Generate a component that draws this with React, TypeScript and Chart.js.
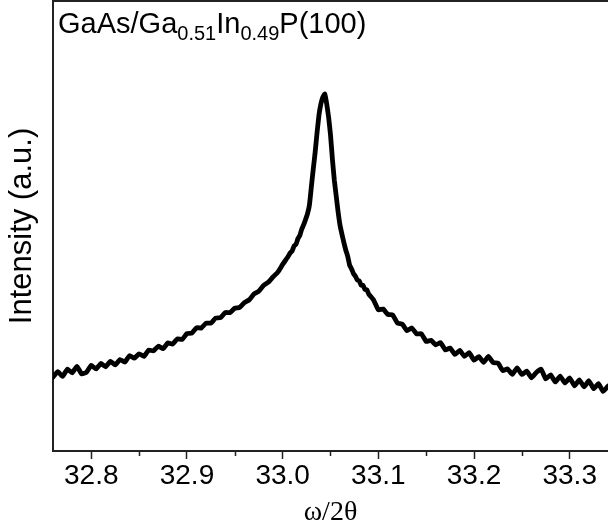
import React, { useEffect, useRef } from "react";
import { Chart, registerables } from "chart.js";

Chart.register(...registerables);

// ω/2θ angles (deg) and intensities (a.u.)
const leftTailAngle = [
  32.760, 32.765, 32.770, 32.775, 32.780, 32.785, 32.790, 32.795, 32.800, 32.805,
  32.810, 32.815, 32.820, 32.825, 32.830, 32.835, 32.840, 32.845, 32.850, 32.855,
  32.860, 32.865, 32.870, 32.875, 32.880, 32.885, 32.890, 32.895, 32.900, 32.905,
  32.910, 32.915, 32.920, 32.925, 32.930, 32.935, 32.940, 32.945, 32.950, 32.955,
  32.960, 32.965, 32.970, 32.975, 32.980, 32.985, 32.990, 32.995, 33.000, 33.005,
];
const leftTailIntensity = [
  76, 81.6, 76.7, 84, 80.4, 86.8, 79.2, 80.9, 87.8, 84.2,
  89.7, 86.4, 91.8, 88.3, 93.7, 91.1, 97.6, 95, 99.4, 96.8,
  103.1, 102.4, 107, 104.6, 110.3, 109.2, 114.4, 113.8, 119.7, 120,
  125.5, 125.3, 130.2, 130.1, 135.2, 135.5, 140.8, 140.7, 145.1, 145.9,
  150.8, 153.5, 159.3, 162.1, 167.9, 171.1, 176.5, 181.3, 189, 195.9,
];
const peakAngle = [
  33.008, 33.010, 33.012, 33.014, 33.016, 33.018, 33.020, 33.022, 33.024, 33.026,
  33.028, 33.030, 33.032, 33.034, 33.036, 33.038, 33.040, 33.042, 33.044, 33.046,
  33.048, 33.050, 33.052, 33.054, 33.056, 33.058, 33.060, 33.062, 33.064, 33.066,
  33.068, 33.070, 33.072, 33.074, 33.076, 33.078, 33.080, 33.082, 33.084, 33.086,
  33.088, 33.090,
];
const peakIntensity = [
  200.7, 202.6, 207.6, 209.2, 215, 218.2, 224.5, 228.8, 234.1, 239.8,
  248.7, 266.8, 284.7, 301.8, 321.6, 339, 350, 356.6, 359.7, 350.1,
  336.7, 319, 294.4, 273.4, 257.3, 241.3, 228, 219.1, 210.8, 203.2,
  197.1, 188.2, 184.5, 179.8, 177.2, 173.3, 172.5, 168.3, 168.1, 163.8,
  163.6, 159.2,
];
const rightTailAngle = [
  33.095, 33.100, 33.105, 33.110, 33.115, 33.120, 33.125, 33.130, 33.135, 33.140,
  33.145, 33.150, 33.155, 33.160, 33.165, 33.170, 33.175, 33.180, 33.185, 33.190,
  33.195, 33.200, 33.205, 33.210, 33.215, 33.220, 33.225, 33.230, 33.235, 33.240,
  33.245, 33.250, 33.255, 33.260, 33.265, 33.270, 33.275, 33.280, 33.285, 33.290,
  33.295, 33.300, 33.305, 33.310, 33.315, 33.320, 33.325, 33.330, 33.335, 33.340,
];
const rightTailIntensity = [
  153.4, 143.5, 144.3, 138.8, 138.3, 130.2, 129.1, 122.6, 125.3, 119.4,
  119.5, 111.8, 112.9, 108.4, 110.6, 103.3, 105.2, 98.8, 102.8, 96.9,
  100.5, 93, 96.7, 90.8, 96.8, 90.6, 90.2, 82.6, 84.3, 78.8,
  85.2, 78.7, 82.1, 75.4, 80.7, 84, 74.2, 78.3, 71.2, 77.1,
  70.2, 75.2, 67.3, 73.3, 66.3, 72.4, 64.4, 69.5, 61.7, 67.1,
];

const majorTicks = [32.8, 32.9, 33.0, 33.1, 33.2, 33.3];
const minorTicks = [32.85, 32.95, 33.05, 33.15, 33.25];

const titleParts = [
  { text: "GaAs/Ga", sub: false },
  { text: "0.51", sub: true },
  { text: "In", sub: false },
  { text: "0.49", sub: true },
  { text: "P(100)", sub: false },
];

const xTitle = "ω/2θ";
const yTitle = "Intensity (a.u.)";

const SANS = '"Liberation Sans", Arial, sans-serif';
const SERIF = '"Liberation Serif", "Times New Roman", serif';
const AXIS = "#222";

const framePlugin = {
  id: "framePlugin",
  afterDraw(chart: any) {
    const { ctx, chartArea: a, scales } = chart;
    const x = scales.x;
    ctx.save();
    ctx.strokeStyle = AXIS;
    ctx.lineWidth = 2;
    ctx.beginPath();
    ctx.moveTo(a.left - 1, a.top);
    ctx.lineTo(a.right, a.top);
    ctx.stroke();
    ctx.lineWidth = 1.5;
    ctx.beginPath();
    for (const v of minorTicks) {
      const px = Math.round(x.getPixelForValue(v)) + 0.5;
      ctx.moveTo(px, a.bottom);
      ctx.lineTo(px, a.bottom + 5);
    }
    ctx.stroke();
    ctx.fillStyle = "#000";
    ctx.textBaseline = "alphabetic";
    let cx = a.left + 5;
    const base = a.top + 32;
    for (const p of titleParts) {
      ctx.font = `${p.sub ? 20 : 29}px ${SANS}`;
      ctx.fillText(p.text, cx, p.sub ? base + 7 : base);
      cx += ctx.measureText(p.text).width;
    }
    ctx.restore();
  },
};

export default function App() {
  const ref = useRef<HTMLCanvasElement>(null);
  useEffect(() => {
    if (!ref.current) return;
    const angles = [...leftTailAngle, ...peakAngle, ...rightTailAngle];
    const intens = [...leftTailIntensity, ...peakIntensity, ...rightTailIntensity];
    const points = angles.map((a, i) => ({ x: a, y: intens[i] }));
    const chart = new Chart(ref.current, {
      type: "line",
      data: {
        datasets: [
          {
            data: points,
            borderColor: "#000",
            borderWidth: 4.8,
            pointRadius: 0,
            tension: 0.12,
            borderJoinStyle: "round",
            borderCapStyle: "round",
            fill: false,
          },
        ],
      },
      options: {
        animation: false,
        responsive: false,
        events: [],
        layout: { padding: { top: 1, right: 0, left: 0, bottom: 0 } },
        plugins: { legend: { display: false }, tooltip: { enabled: false }, title: { display: false } },
        scales: {
          x: {
            type: "linear",
            min: 32.76,
            max: 33.34,
            afterBuildTicks: (s: any) => {
              s.ticks = majorTicks.map((v) => ({ value: v }));
            },
            afterFit: (s: any) => {
              s.height = 78;
            },
            ticks: {
              autoSkip: false,
              maxRotation: 0,
              color: "#000",
              padding: 0,
              font: { family: SANS, size: 28 },
              callback: (v: any) => Number(v).toFixed(1),
            },
            grid: {
              display: true,
              drawOnChartArea: false,
              drawTicks: true,
              tickLength: 8,
              tickColor: AXIS,
              tickWidth: 1.5,
            },
            border: { display: true, color: AXIS, width: 2 },
            title: {
              display: true,
              text: xTitle,
              color: "#000",
              font: { family: SERIF, size: 28 },
              padding: { top: 2, bottom: 0 },
            },
          },
          y: {
            min: 2,
            max: 453,
            afterFit: (s: any) => {
              s.width = 53;
            },
            ticks: { display: false },
            grid: { display: false, drawTicks: false },
            border: { display: true, color: AXIS, width: 2 },
            title: {
              display: true,
              text: yTitle,
              color: "#000",
              font: { family: SANS, size: 31 },
              padding: { top: 4, bottom: 6 },
            },
          },
        },
      },
      plugins: [framePlugin],
    });
    return () => chart.destroy();
  }, []);
  return (
    <div style={{ position: "fixed", left: 0, top: 0, width: 608, height: 529, background: "#fff" }}>
      <canvas ref={ref} width={608} height={529} style={{ display: "block" }} />
    </div>
  );
}
